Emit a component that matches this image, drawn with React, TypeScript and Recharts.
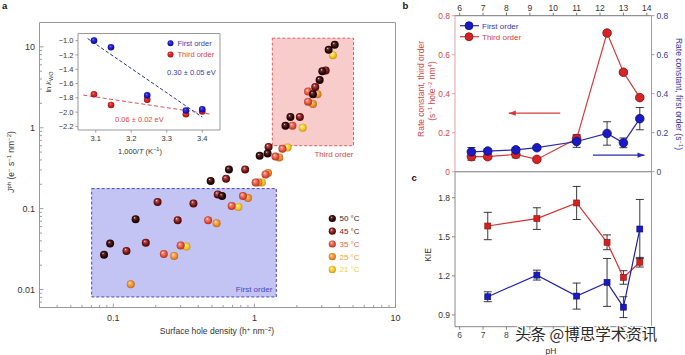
import React from 'react';
import {
  ScatterChart, Scatter, XAxis, YAxis, ReferenceArea, ComposedChart, Line, ErrorBar, Label,
} from 'recharts';

const FONT = '"Liberation Sans", Arial, Helvetica, sans-serif';

// ---------- Panel a: photocurrent vs surface hole density ----------
const t50 = [
  { x: 0.086, y: 0.027 }, { x: 0.095, y: 0.037 }, { x: 0.144, y: 0.074 }, { x: 0.49, y: 0.22 },
  { x: 0.59, y: 0.143 }, { x: 0.66, y: 0.305 }, { x: 1.09, y: 0.45 }, { x: 1.24, y: 0.48 },
  { x: 1.66, y: 1.06 }, { x: 1.8, y: 1.36 }, { x: 2.6, y: 2.6 }, { x: 2.9, y: 3.9 },
  { x: 3.03, y: 5.0 }, { x: 3.36, y: 9.2 }, { x: 3.71, y: 10.6 },
];
const t45 = [
  { x: 0.124, y: 0.03 }, { x: 0.17, y: 0.038 }, { x: 0.206, y: 0.121 }, { x: 0.286, y: 0.072 },
  { x: 0.37, y: 0.116 }, { x: 0.55, y: 0.15 }, { x: 0.63, y: 0.235 }, { x: 0.86, y: 0.305 },
  { x: 1.26, y: 0.58 }, { x: 2.1, y: 1.36 }, { x: 2.7, y: 3.2 }, { x: 3.2, y: 5.1 },
];
const t35 = [
  { x: 0.228, y: 0.0275 }, { x: 0.3, y: 0.035 }, { x: 0.47, y: 0.072 }, { x: 0.69, y: 0.108 },
  { x: 0.83, y: 0.143 }, { x: 1.02, y: 0.21 }, { x: 1.2, y: 0.265 }, { x: 1.41, y: 0.44 },
  { x: 1.58, y: 0.55 }, { x: 1.86, y: 1.06 }, { x: 2.4, y: 2.1 }, { x: 2.4, y: 2.8 },
];
const t25 = [
  { x: 0.133, y: 0.0116 }, { x: 0.27, y: 0.026 }, { x: 0.54, y: 0.066 }, { x: 0.9, y: 0.135 },
  { x: 1.07, y: 0.21 }, { x: 1.25, y: 0.275 }, { x: 1.5, y: 0.43 }, { x: 2.6, y: 1.97 },
  { x: 2.8, y: 2.6 },
];
const t21 = [
  { x: 0.33, y: 0.034 }, { x: 0.77, y: 0.105 }, { x: 1.13, y: 0.21 }, { x: 1.72, y: 0.57 },
  { x: 2.2, y: 1.0 }, { x: 3.6, y: 7.9 },
];
const firstOrderBox = { x1: 0.0703, x2: 1.43, y1: 0.0081, y2: 0.177 };
const thirdOrderBox = { x1: 1.34, x2: 5.04, y1: 0.6, y2: 12.8 };
const xDomainA = [0.03, 10];
const yDomainA = [0.006, 20];
const xMajorA = [0.1, 1, 10];
const xMinorA = [0.03, 0.04, 0.05, 0.06, 0.07, 0.08, 0.09, 0.2, 0.3, 0.4, 0.5, 0.6, 0.7, 0.8, 0.9, 2, 3, 4, 5, 6, 7, 8, 9];
const yMajorA = [0.01, 0.1, 1, 10];
const yMinorA = [0.007, 0.008, 0.009, 0.02, 0.03, 0.04, 0.05, 0.06, 0.07, 0.08, 0.09, 0.2, 0.3, 0.4, 0.5, 0.6, 0.7, 0.8, 0.9, 2, 3, 4, 5, 6, 7, 8, 9];
const tempLabels = ['50 °C', '45 °C', '35 °C', '25 °C', '21 °C'];
const tempIds = ['s50', 's45', 's35', 's25', 's21'];
const tempText = ['#2a2a2a', '#7a1a1a', '#e06050', '#ef9d45', '#eed04a'];

// ---------- Inset: Arrhenius ----------
const invT = [3.095, 3.143, 3.245, 3.354, 3.4];
const lnkFirst = [-1.0, -1.093, -1.766, -1.978, -1.96];
const lnkThird = [-1.75, -1.9, -1.826, -2.03, -1.99];
const fitFirst = [{ x: 3.077, y: -0.97 }, { x: 3.4, y: -2.07 }];
const fitThird = [{ x: 3.065, y: -1.762 }, { x: 3.425, y: -2.03 }];
const insetXTicks = [3.1, 3.2, 3.3, 3.4];
const insetYTicks = [-2.2, -2.0, -1.8, -1.6, -1.4, -1.2, -1.0];

// ---------- Panel b: rate constants vs pH ----------
const pHB = [6.5, 7.2, 8.4, 9.3, 11, 12.3, 13, 13.7];
const thirdRate = [0.077, 0.077, 0.089, 0.063, 0.17, 0.711, 0.51, 0.38];
const thirdErr = [0.018, 0.012, 0.018, 0.008, 0.02, 0.01, 0.01, 0.01];
const firstRate = [0.102, 0.106, 0.112, 0.123, 0.155, 0.196, 0.148, 0.272];
const firstErr = [0.022, 0.01, 0.012, 0.01, 0.03, 0.06, 0.025, 0.057];
const arrowThird = [{ pH: 10.3, v: 0.3 }, { pH: 8.1, v: 0.3 }];
const arrowFirst = [{ pH: 11.7, v: 0.085 }, { pH: 13.9, v: 0.085 }];
const pHTicks = [6, 7, 8, 9, 10, 11, 12, 13, 14];
const rateTicks = [0, 0.2, 0.4, 0.6, 0.8];

// ---------- Panel c: KIE vs pH ----------
const pHC = [7.2, 9.3, 11, 12.3, 13, 13.7];
const kieThird = [1.583, 1.64, 1.76, 1.458, 1.188, 1.305];
const kieThirdErr = [0.105, 0.083, 0.127, 0.057, 0.052, 0.037];
const kieFirst = [1.04, 1.206, 1.045, 1.15, 0.96, 1.56];
const kieFirstErr = [0.038, 0.038, 0.1, 0.184, 0.08, 0.227];
const kieTicks = [0.9, 1.2, 1.5, 1.8];

const insetFirst = invT.map((x, i) => ({ x, y: lnkFirst[i] }));
const insetThird = invT.map((x, i) => ({ x, y: lnkThird[i] }));
const dataB = pHB.map((pH, i) => ({ pH, third: thirdRate[i], thirdErr: thirdErr[i], first: firstRate[i], firstErr: firstErr[i] }));
const dataC = pHC.map((pH, i) => ({ pH, third: kieThird[i], thirdErr: kieThirdErr[i], first: kieFirst[i], firstErr: kieFirstErr[i] }));

const W = 685, H = 355;
const abs: React.CSSProperties = { position: 'absolute', left: 0, top: 0 };
// plot-area rectangle -> margins (every side carries a 1px axis)
const box = (l: number, t: number, r: number, b: number) => ({ left: l - 1, top: t - 1, right: W - r - 1, bottom: H - b - 1 });

const isIn = (arr: number[], v: number) => arr.some((m) => Math.abs(m - v) / m < 1e-6);

const LogXTick = (p: any) => {
  const { x, y, payload } = p;
  const v = payload.value;
  const major = isIn(xMajorA, v);
  return (
    <g>
      <line x1={x} x2={x} y1={y} y2={y - (major ? 4 : 2.5)} stroke="#888" strokeWidth={0.8} />
      {major && (
        <text x={x} y={y + 13.5} textAnchor="middle" fontSize={9} fill="#333" fontFamily={FONT}>{String(v)}</text>
      )}
    </g>
  );
};
const LogYTick = (p: any) => {
  const { x, y, payload } = p;
  const v = payload.value;
  const major = isIn(yMajorA, v);
  return (
    <g>
      <line x1={x} x2={x + (major ? 4 : 2.5)} y1={y} y2={y} stroke="#888" strokeWidth={0.8} />
      {major && (
        <text x={x - 4.5} y={y + 3.2} textAnchor="end" fontSize={9} fill="#333" fontFamily={FONT}>{String(v)}</text>
      )}
    </g>
  );
};

const sphere = (id: string, r = 4) => (p: any) => <circle cx={p.cx} cy={p.cy} r={r} fill={`url(#${id})`} />;

const circleDot = (fill: string, stroke: string) => (p: any) => (
  <circle key={`d${p.index}-${fill}`} cx={p.cx} cy={p.cy} r={4.3} fill={fill} stroke={stroke} strokeWidth={0.8} />
);
const squareDot = (fill: string, stroke: string) => (p: any) => (
  <rect key={`s${p.index}-${fill}`} x={p.cx - 3} y={p.cy - 3} width={6} height={6} fill={fill} stroke={stroke} strokeWidth={0.6} />
);
const arrowHead = (color: string, dir: number) => (p: any) =>
  p.index === 1 ? (
    <polygon key={`a${p.index}${color}`} points={`${p.cx},${p.cy} ${p.cx - dir * 7},${p.cy - 2.6} ${p.cx - dir * 7},${p.cy + 2.6}`} fill={color} />
  ) : (
    <g key={`a${p.index}${color}`} />
  );

const Grad = ({ id, c0, c1, c2, c3 }: any) => (
  <radialGradient id={id} cx="0.5" cy="0.5" r="0.55" fx="0.36" fy="0.3">
    <stop offset="0" stopColor={c0} />
    <stop offset="0.22" stopColor={c1} />
    <stop offset="0.65" stopColor={c2} />
    <stop offset="1" stopColor={c3} />
  </radialGradient>
);

const tickStyle = { fontSize: 8.5, fontFamily: FONT };
const frameX = (id: string, orient: 'top' | 'bottom', color = '#999') => (
  <XAxis xAxisId={id} orientation={orient} type="number" domain={[0, 1]} height={1} tick={false} tickLine={false} axisLine={{ stroke: color }} />
);
const frameY = (id: string, orient: 'left' | 'right', color = '#999') => (
  <YAxis yAxisId={id} orientation={orient} type="number" domain={[0, 1]} width={1} tick={false} tickLine={false} axisLine={{ stroke: color }} />
);

export default function App() {
  const legendYs = [218.5, 231.2, 244, 256.7, 269.4];
  return (
    <div style={{ position: 'absolute', left: 0, top: 0, width: W, height: H, background: '#fff', fontFamily: FONT, overflow: 'hidden' }}>
      <svg width={0} height={0} style={{ position: 'absolute' }}>
        <defs>
          <Grad id="s50" c0="#f4e6e6" c1="#6a3030" c2="#2a0606" c3="#120000" />
          <Grad id="s45" c0="#ffe8e8" c1="#b85050" c2="#741414" c3="#3e0505" />
          <Grad id="s35" c0="#fff0ea" c1="#f5907a" c2="#df4e38" c3="#a82a18" />
          <Grad id="s25" c0="#fff4e0" c1="#f8b870" c2="#eb8c2a" c3="#b45e10" />
          <Grad id="s21" c0="#fffbe0" c1="#fbe27a" c2="#f2c21f" c3="#c08a05" />
          <Grad id="sBlue" c0="#8c8cff" c1="#3a3ae0" c2="#1616c0" c3="#0a0a80" />
          <Grad id="sRed" c0="#ff9a9a" c1="#e04040" c2="#cc1e1e" c3="#8a0a0a" />
        </defs>
      </svg>

      {/* Panel a main */}
      <div style={abs}>
        <ScatterChart width={W} height={H} margin={box(39.5, 22.5, 395.5, 307.5)}>
          <XAxis xAxisId={0} dataKey="x" type="number" scale="log" domain={xDomainA} allowDataOverflow
            ticks={[...xMinorA, ...xMajorA].sort((a, b) => a - b)} interval={0} height={1}
            tickSize={0} tickMargin={0} tickLine={false} axisLine={{ stroke: '#999' }} tick={<LogXTick />} />
          <YAxis yAxisId={0} dataKey="y" type="number" scale="log" domain={yDomainA} allowDataOverflow
            ticks={[...yMinorA, ...yMajorA].sort((a, b) => a - b)} interval={0} width={1}
            tickSize={0} tickMargin={0} tickLine={false} axisLine={{ stroke: '#999' }} tick={<LogYTick />} />
          {frameX('top', 'top')}
          {frameY('right', 'right')}
          <ReferenceArea {...firstOrderBox} fill="#c4c4f4" fillOpacity={1} stroke="#4848c4" strokeDasharray="3 2" strokeWidth={1}>
            <Label content={(p: any) => {
              const vb = p.viewBox;
              return <text x={vb.x + vb.width - 4} y={vb.y + vb.height - 5} textAnchor="end" fontSize={8} fill="#4545c0" fontFamily={FONT}>First order</text>;
            }} />
          </ReferenceArea>
          <ReferenceArea {...thirdOrderBox} fill="#f9cccc" fillOpacity={1} stroke="#e26060" strokeDasharray="3 2" strokeWidth={1}>
            <Label content={(p: any) => {
              const vb = p.viewBox;
              return <text x={vb.x + vb.width} y={vb.y + vb.height + 11.5} textAnchor="end" fontSize={8} fill="#d84848" fontFamily={FONT}>Third order</text>;
            }} />
          </ReferenceArea>
          <Scatter data={t21} shape={sphere('s21')} isAnimationActive={false} />
          <Scatter data={t25} shape={sphere('s25')} isAnimationActive={false} />
          <Scatter data={t35} shape={sphere('s35')} isAnimationActive={false} />
          <Scatter data={t45} shape={sphere('s45')} isAnimationActive={false} />
          <Scatter data={t50} shape={sphere('s50')} isAnimationActive={false} />
        </ScatterChart>
      </div>

      {/* Inset */}
      <div style={abs}>
        <ComposedChart width={W} height={H} margin={box(78, 33.5, 220, 130)}>
          <XAxis xAxisId={0} dataKey="x" type="number" domain={[3.05, 3.45]} allowDataOverflow ticks={insetXTicks} interval={0}
            height={1} tickSize={2.5} tickMargin={3} stroke="#999" tick={{ fontSize: 7.5, fill: '#333', fontFamily: FONT }}
            tickFormatter={(v: number) => v.toFixed(1)} />
          <YAxis yAxisId={0} type="number" domain={[-2.25, -0.9]} allowDataOverflow ticks={insetYTicks} interval={0}
            width={1} tickSize={2.5} tickMargin={2} stroke="#999" tick={{ fontSize: 7.5, fill: '#333', fontFamily: FONT }}
            tickFormatter={(v: number) => v.toFixed(1).replace('-', '\u2212')} />
          {frameX('top', 'top')}
          {frameY('right', 'right')}
          <Line data={fitFirst} dataKey="y" stroke="#2a3580" strokeWidth={1} strokeDasharray="3.5 2" dot={false} isAnimationActive={false} />
          <Line data={fitThird} dataKey="y" stroke="#e05050" strokeWidth={1} strokeDasharray="4 2.5" dot={false} isAnimationActive={false} />
          <Scatter data={insetThird} dataKey="y" shape={sphere('sRed', 3.3)} isAnimationActive={false} />
          <Scatter data={insetFirst} dataKey="y" shape={sphere('sBlue', 3.3)} isAnimationActive={false} />
        </ComposedChart>
      </div>

      {/* Panel b */}
      <div style={abs}>
        <ComposedChart width={W} height={H} data={dataB} margin={box(455, 15.7, 651.5, 171.7)}>
          <XAxis dataKey="pH" type="number" orientation="top" domain={[5.8, 14.2]} ticks={pHTicks} interval={0}
            height={1} tickSize={3} tickMargin={1.5} stroke="#777" tick={{ ...tickStyle, fill: '#333' }} />
          {frameX('bot', 'bottom')}
          <YAxis yAxisId="left" type="number" domain={[0, 0.8]} ticks={rateTicks} interval={0} width={1}
            tickSize={3} tickMargin={2} stroke="#e0a0a0" tick={{ ...tickStyle, fill: '#d24848' }}
            tickFormatter={(v: number) => (v === 0 ? '0' : v.toFixed(1))} />
          <YAxis yAxisId="right" orientation="right" type="number" domain={[0, 0.8]} ticks={rateTicks} interval={0} width={1}
            tickSize={3} tickMargin={2} stroke="#9a9ac8" tick={{ ...tickStyle, fill: '#3a3a9a' }}
            tickFormatter={(v: number) => (v === 0 ? '0' : v.toFixed(1))} />
          <Line yAxisId="left" data={arrowThird} dataKey="v" stroke="#d83a3a" strokeWidth={1.3} dot={arrowHead('#d83a3a', -1)} isAnimationActive={false} />
          <Line yAxisId="right" data={arrowFirst} dataKey="v" stroke="#2a2ab0" strokeWidth={1.3} dot={arrowHead('#2a2ab0', 1)} isAnimationActive={false} />
          <Line yAxisId="left" dataKey="third" stroke="#d83a3a" strokeWidth={1.2} dot={circleDot('#d42424', '#8a1010')} isAnimationActive={false}>
            <ErrorBar dataKey="thirdErr" width={4} stroke="#222" strokeWidth={0.9} direction="y" />
          </Line>
          <Line yAxisId="right" dataKey="first" stroke="#2a2aa8" strokeWidth={1.2} dot={circleDot('#1a1ac4', '#0c0c78')} isAnimationActive={false}>
            <ErrorBar dataKey="firstErr" width={4} stroke="#222" strokeWidth={0.9} direction="y" />
          </Line>
        </ComposedChart>
      </div>

      {/* Panel c */}
      <div style={abs}>
        <ComposedChart width={W} height={H} data={dataC} margin={box(455, 171.7, 651.5, 326.7)}>
          <XAxis dataKey="pH" type="number" domain={[5.8, 14.2]} ticks={pHTicks} interval={0}
            height={1} tickSize={3} tickMargin={2} stroke="#888" tick={{ ...tickStyle, fill: '#444' }} />
          {frameX('top', 'top')}
          <YAxis type="number" domain={[0.81, 2.0]} ticks={kieTicks} interval={0} width={1}
            tickSize={3} tickMargin={2} stroke="#888" tick={{ ...tickStyle, fill: '#333' }}
            tickFormatter={(v: number) => v.toFixed(1)} />
          {frameY('right', 'right')}
          <Line dataKey="third" stroke="#d83030" strokeWidth={1.2} dot={squareDot('#d42020', '#8a1010')} isAnimationActive={false}>
            <ErrorBar dataKey="thirdErr" width={4} stroke="#222" strokeWidth={0.9} direction="y" />
          </Line>
          <Line dataKey="first" stroke="#2020b0" strokeWidth={1.2} dot={squareDot('#1a1ac0', '#0c0c70')} isAnimationActive={false}>
            <ErrorBar dataKey="firstErr" width={4} stroke="#222" strokeWidth={0.9} direction="y" />
          </Line>
        </ComposedChart>
      </div>

      {/* Text overlay */}
      <svg width={W} height={H} style={{ ...abs, pointerEvents: 'none' }} fontFamily={FONT}>
        <text x={2} y={9} fontSize={9.5} fontWeight="bold" fill="#111">a</text>
        <text x={402.5} y={9} fontSize={9.5} fontWeight="bold" fill="#111">b</text>
        <text x={411.5} y={181} fontSize={9.5} fontWeight="bold" fill="#111">c</text>

        <text transform="translate(13.5,162) rotate(-90)" textAnchor="middle" fontSize={8.5} fill="#333">
          <tspan fontStyle="italic">J</tspan><tspan fontSize={6} dy={-3}>ph</tspan><tspan dy={3}> (e</tspan><tspan fontSize={6} dy={-3}>−</tspan><tspan dy={3}> s</tspan><tspan fontSize={6} dy={-3}>−1</tspan><tspan dy={3}> nm</tspan><tspan fontSize={6} dy={-3}>−2</tspan><tspan dy={3}>)</tspan>
        </text>
        <text x={217} y={334} textAnchor="middle" fontSize={8.5} fill="#333">
          Surface hole density (h<tspan fontSize={6} dy={-3}>+</tspan><tspan dy={3}> nm</tspan><tspan fontSize={6} dy={-3}>−2</tspan><tspan dy={3}>)</tspan>
        </text>

        <text transform="translate(51,82) rotate(-90)" textAnchor="middle" fontSize={7.5} fill="#333">
          ln <tspan fontStyle="italic">k</tspan><tspan fontSize={5.5} dy={2}>WO</tspan>
        </text>
        <text x={140} y={153.5} textAnchor="middle" fontSize={7.5} fill="#333">
          1,000/<tspan fontStyle="italic">T</tspan> (K<tspan fontSize={5.5} dy={-3}>−1</tspan><tspan dy={3}>)</tspan>
        </text>
        <circle cx={170.5} cy={43.3} r={3} fill="url(#sBlue)" />
        <text x={177.5} y={46} fontSize={7.5} fill="#3a3ab0">First order</text>
        <circle cx={170.5} cy={54.5} r={3} fill="url(#sRed)" />
        <text x={177.5} y={57.2} fontSize={7.5} fill="#d84848">Third order</text>
        <text x={167} y={74.5} fontSize={7.5} fill="#3a3ab0">0.30 ± 0.05 eV</text>
        <text x={115} y={122} fontSize={7.5} fill="#d84848">0.06 ± 0.02 eV</text>

        {tempLabels.map((t, i) => (
          <g key={t}>
            <circle cx={332.3} cy={legendYs[i]} r={3.6} fill={`url(#${tempIds[i]})`} />
            <text x={339.5} y={legendYs[i] + 2.9} fontSize={8} fill={tempText[i]}>{t}</text>
          </g>
        ))}

        <line x1={460} x2={479} y1={25.7} y2={25.7} stroke="#2a2aa8" strokeWidth={1.2} />
        <circle cx={469} cy={25.7} r={4} fill="#1a1ac4" stroke="#0c0c78" strokeWidth={0.8} />
        <text x={482} y={28.6} fontSize={8} fill="#3535b0">First order</text>
        <line x1={460} x2={479} y1={36.7} y2={36.7} stroke="#d83a3a" strokeWidth={1.2} />
        <circle cx={469} cy={36.7} r={4} fill="#d42424" stroke="#8a1010" strokeWidth={0.8} />
        <text x={482} y={39.6} fontSize={8} fill="#d84040">Third order</text>

        <text transform="translate(423.5,89) rotate(-90)" textAnchor="middle" fontSize={8.5} fill="#d24848">Rate constant, third order</text>
        <text transform="translate(434.5,91) rotate(-90)" textAnchor="middle" fontSize={8.5} fill="#d24848">
          (s<tspan fontSize={6} dy={-3}>−1</tspan><tspan dy={3}> hole</tspan><tspan fontSize={6} dy={-3}>−2</tspan><tspan dy={3}> nm</tspan><tspan fontSize={6} dy={-3}>4</tspan><tspan dy={3}>)</tspan>
        </text>
        <text transform="translate(675.5,94) rotate(90)" textAnchor="middle" fontSize={8.5} fill="#3a3aa0">
          Rate constant, first order (s<tspan fontSize={6} dy={-3}>−1</tspan><tspan dy={3}>)</tspan>
        </text>

        <text transform="translate(431,255) rotate(-90)" textAnchor="middle" fontSize={8.5} fill="#333">KIE</text>
        <text x={551} y={353.5} textAnchor="middle" fontSize={8.5} fill="#333">pH</text>

        <text x={515} y={340} fontSize={15.5} fontFamily='"Noto Sans CJK SC", sans-serif' fill="#2a2a2a"
          stroke="#ffffff" strokeWidth={2.5} paintOrder="stroke" strokeLinejoin="round">头条 @博思学术资讯</text>
      </svg>
    </div>
  );
}
